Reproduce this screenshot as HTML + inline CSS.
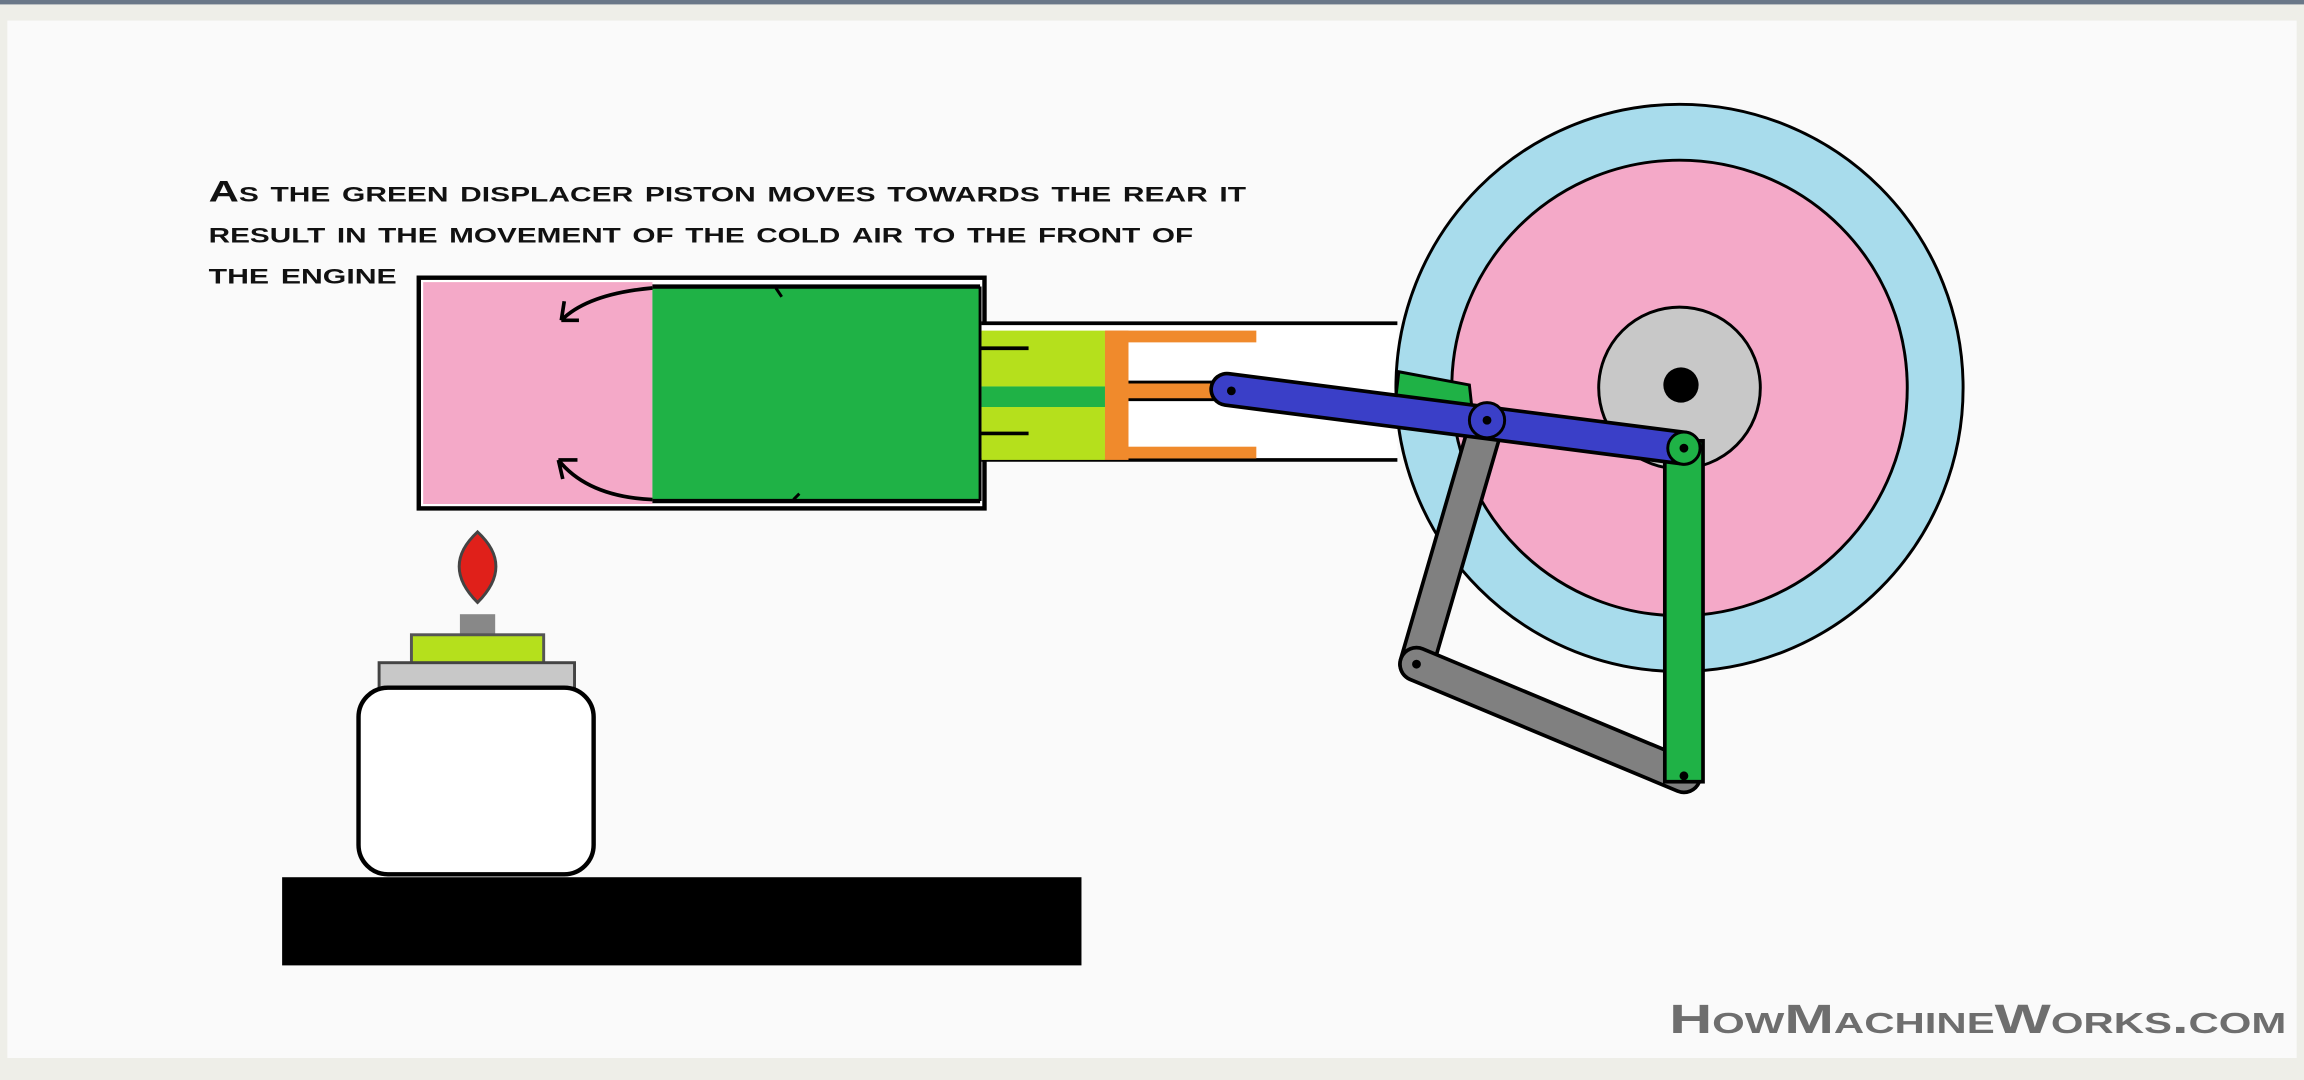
<!DOCTYPE html>
<html><head><style>
html,body{margin:0;padding:0;background:#f6f6f4;}
svg{display:block;}
</style></head><body>
<svg width="2304" height="1080" viewBox="0 0 1568 735" preserveAspectRatio="none" xmlns="http://www.w3.org/2000/svg">
<rect x="0" y="0" width="1568" height="735" fill="#eeeee8"/>
<rect x="0" y="0" width="1568" height="3" fill="#6a7788"/>
<rect x="5" y="14" width="1558" height="706" fill="#fafafa"/>
<g font-family="Liberation Sans, sans-serif" font-weight="bold" font-variant="small-caps" font-size="20" fill="#111">
<text x="142" y="137" textLength="706" lengthAdjust="spacingAndGlyphs">As the green displacer piston moves towards the rear it</text>
<text x="142" y="165" textLength="670" lengthAdjust="spacingAndGlyphs">result in the movement of the cold air to the front of</text>
<text x="142" y="193" textLength="128" lengthAdjust="spacingAndGlyphs">the engine</text>
</g>
<!-- cylinder -->
<rect x="285" y="189" width="385" height="157" fill="#fff" stroke="#000" stroke-width="3"/>
<rect x="288" y="192" width="156" height="151" fill="#f4a9c8"/>
<rect x="444" y="195" width="223" height="146" fill="#1fb246"/>
<line x1="444" y1="195" x2="667" y2="195" stroke="#000" stroke-width="3"/>
<line x1="444" y1="341" x2="667" y2="341" stroke="#000" stroke-width="3"/>
<line x1="667" y1="195" x2="667" y2="341" stroke="#000" stroke-width="2"/>
<path d="M528,196 l4,6 M540,340 l4,-4" stroke="#000" stroke-width="2" fill="none"/>
<path d="M444,196 Q400,200 382,218 M382,218 l2,-13 M382,218 l12,0" stroke="#000" stroke-width="2.5" fill="none"/>
<path d="M444,340 Q400,338 380,313 M380,313 l3,13 M380,313 l13,0" stroke="#000" stroke-width="2.5" fill="none"/>
<!-- narrow cylinder -->
<rect x="668" y="220" width="283" height="93" fill="#fff"/>
<line x1="668" y1="220" x2="951" y2="220" stroke="#000" stroke-width="2.5"/>
<line x1="668" y1="313" x2="951" y2="313" stroke="#000" stroke-width="2.5"/>
<rect x="668" y="225" width="84" height="38" fill="#b5e01c"/>
<rect x="668" y="277" width="84" height="36" fill="#b5e01c"/>
<rect x="668" y="263" width="84" height="14" fill="#1fb246"/>
<line x1="667" y1="237" x2="700" y2="237" stroke="#000" stroke-width="2.5"/>
<line x1="667" y1="295" x2="700" y2="295" stroke="#000" stroke-width="2.5"/>
<rect x="752" y="225" width="16" height="88" fill="#f08a2c"/>
<rect x="752" y="225" width="103" height="8" fill="#f08a2c"/>
<rect x="752" y="304" width="103" height="8" fill="#f08a2c"/>
<rect x="768" y="260" width="72" height="12" fill="#f08a2c"/>
<line x1="768" y1="260" x2="845" y2="260" stroke="#000" stroke-width="2"/>
<line x1="768" y1="272" x2="845" y2="272" stroke="#000" stroke-width="2"/>
<!-- wheel -->
<circle cx="1143" cy="264" r="193" fill="#a8dcec" stroke="#000" stroke-width="2"/>
<circle cx="1143" cy="264" r="155" fill="#f4a9c8" stroke="#000" stroke-width="2"/>
<circle cx="1143" cy="264" r="55" fill="#c8c8c8" stroke="#000" stroke-width="2"/>
<circle cx="1144" cy="262" r="12" fill="#000"/>
<!-- grey links -->
<line x1="1012" y1="287" x2="964" y2="452" stroke="#000" stroke-width="25" stroke-linecap="round"/>
<line x1="1012" y1="287" x2="964" y2="452" stroke="#808080" stroke-width="20" stroke-linecap="round"/>
<line x1="964" y1="452" x2="1146" y2="528" stroke="#000" stroke-width="25" stroke-linecap="round"/>
<line x1="964" y1="452" x2="1146" y2="528" stroke="#808080" stroke-width="20" stroke-linecap="round"/>
<!-- green vertical link -->
<rect x="1133" y="300" width="26" height="232" fill="#1fb246" stroke="#000" stroke-width="2.5"/>
<!-- green small link -->
<polygon points="952,253 1000,262 1002,280 950,270" fill="#1fb246" stroke="#000" stroke-width="2"/>
<!-- blue rod -->
<line x1="835" y1="265" x2="1146" y2="305" stroke="#000" stroke-width="24" stroke-linecap="round"/>
<line x1="835" y1="265" x2="1146" y2="305" stroke="#3a3fc8" stroke-width="19" stroke-linecap="round"/>
<circle cx="1012" cy="286" r="12" fill="#3a3fc8" stroke="#000" stroke-width="2"/>
<circle cx="1146" cy="305" r="11" fill="#1fb246" stroke="#000" stroke-width="2"/>
<circle cx="1146" cy="305" r="3" fill="#000"/>
<circle cx="1012" cy="286" r="3" fill="#000"/>
<circle cx="838" cy="266" r="3" fill="#000"/>
<circle cx="964" cy="452" r="3" fill="#000"/>
<circle cx="1146" cy="528" r="3" fill="#000"/>
<!-- burner -->
<path d="M325,362 Q350,385 325,410 Q300,385 325,362 Z" fill="#e0201a" stroke="#444" stroke-width="2"/>
<rect x="313" y="418" width="24" height="15" fill="#888"/>
<rect x="280" y="432" width="90" height="20" fill="#b5e01c" stroke="#555" stroke-width="2"/>
<rect x="258" y="451" width="133" height="18" fill="#c8c8c8" stroke="#444" stroke-width="2"/>
<rect x="244" y="468" width="160" height="127" rx="20" fill="#fff" stroke="#000" stroke-width="3"/>
<rect x="192" y="597" width="544" height="60" fill="#000"/>
<text x="1136" y="703" textLength="420" lengthAdjust="spacingAndGlyphs" font-family="Liberation Sans, sans-serif" font-weight="bold" font-variant="small-caps" font-size="28" fill="#6e6e6e">HowMachineWorks.com</text>
</svg>
</body></html>
